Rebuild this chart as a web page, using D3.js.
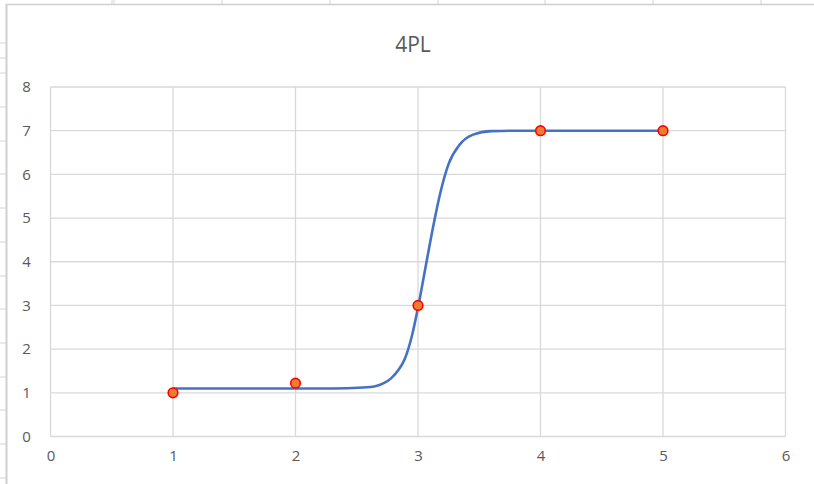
<!DOCTYPE html>
<html>
<head>
<meta charset="utf-8">
<script src="https://cdn.jsdelivr.net/npm/d3@7"></script>
<style>
html,body{margin:0;padding:0;background:#fff;}
svg{display:block;}
text{font-family:"Open Sans","Noto Sans",sans-serif;}
</style>
</head>
<body>
<svg id="chart" width="814" height="484"></svg>
<script>
// Data
const title = "4PL";
const pointX = [1, 2, 3, 4, 5];
const pointY = [1, 1.22, 3, 7, 7];
const curveX = [1, 2, 2.3, 2.55, 2.65, 2.72, 2.78, 2.84, 2.89, 2.95, 3.0, 3.06, 3.12, 3.18, 3.25, 3.34, 3.45, 3.6, 3.8, 4, 5];
const curveY = [1.10, 1.10, 1.10, 1.12, 1.15, 1.22, 1.33, 1.52, 1.76, 2.30, 2.95, 3.85, 4.75, 5.55, 6.24, 6.68, 6.91, 6.99, 7.0, 7.0, 7.0];
const xTicks = [0, 1, 2, 3, 4, 5, 6];
const yTicks = [0, 1, 2, 3, 4, 5, 6, 7, 8];

const svg = d3.select("#chart");
const W = 814, H = 484;

// spreadsheet background
const sheet = svg.append("g");
sheet.append("rect").attr("x",0).attr("y",0).attr("width",W).attr("height",H).attr("fill","#fff");
[112, 114, 222, 330, 438, 545, 653, 761].forEach(xx => {
  sheet.append("line").attr("x1",xx).attr("x2",xx).attr("y1",0).attr("y2",4).attr("stroke","#d4d4d4").attr("stroke-width",1);
});
[43, 58, 73, 107, 141, 174, 208, 242, 276, 309, 343, 377, 410, 444, 478].forEach(yy => {
  sheet.append("line").attr("x1",0).attr("x2",7).attr("y1",yy).attr("y2",yy).attr("stroke","#d4d4d4").attr("stroke-width",1);
});
sheet.append("line").attr("x1",6).attr("x2",W).attr("y1",4.5).attr("y2",4.5).attr("stroke","#d0d0d0").attr("stroke-width",1.5);
sheet.append("line").attr("x1",6.5).attr("x2",6.5).attr("y1",4).attr("y2",H).attr("stroke","#d0d0d0").attr("stroke-width",2);

// scales
const x = d3.scaleLinear().domain([0, 6]).range([50.5, 785.5]);
const y = d3.scaleLinear().domain([0, 8]).range([436.5, 87]);

const grid = "#d9d9d9";
const g = svg.append("g");

g.selectAll(".vg").data(xTicks).join("line")
  .attr("x1", d => x(d)).attr("x2", d => x(d))
  .attr("y1", y(0)).attr("y2", y(8))
  .attr("stroke", grid).attr("stroke-width", 1.3);
g.selectAll(".hg").data(yTicks).join("line")
  .attr("x1", x(0)).attr("x2", x(6))
  .attr("y1", d => y(d)).attr("y2", d => y(d))
  .attr("stroke", grid).attr("stroke-width", 1.3);

const xAxis = d3.axisBottom(x).tickValues(xTicks).tickSize(0).tickPadding(14).tickFormat(d3.format("d"));
const yAxis = d3.axisLeft(y).tickValues(yTicks).tickSize(0).tickPadding(19).tickFormat(d3.format("d"));
const xa = svg.append("g").attr("transform", `translate(0,${y(0)})`).call(xAxis);
const ya = svg.append("g").attr("transform", `translate(${x(0)},0)`).call(yAxis);
[xa, ya].forEach(a => {
  a.select(".domain").remove();
  a.selectAll("text").attr("fill", "#595959").style("font-size", "15px").style("font-family", "'Open Sans','Noto Sans',sans-serif");
});
ya.selectAll("text").attr("text-anchor","middle").attr("dx","-5");

svg.append("text").attr("x", 413).attr("y", 52).attr("text-anchor", "middle")
  .attr("fill", "#595959").style("font-size", "21px").text(title);

const curveData = curveX.map((v, i) => [v, curveY[i]]);
const line = d3.line().x(d => x(d[0])).y(d => y(d[1])).curve(d3.curveMonotoneX);
svg.append("path").datum(curveData).attr("d", line)
  .attr("fill", "none").attr("stroke", "#4472C4").attr("stroke-width", 2.6).attr("stroke-linecap","round");

const pts = pointX.map((v, i) => [v, pointY[i]]);
svg.selectAll(".pt").data(pts).join("circle")
  .attr("cx", d => x(d[0])).attr("cy", d => y(d[1])).attr("r", 4.8)
  .attr("fill", "#ED7D31").attr("stroke", "#FF0000").attr("stroke-width", 1.6);
</script>
</body>
</html>
